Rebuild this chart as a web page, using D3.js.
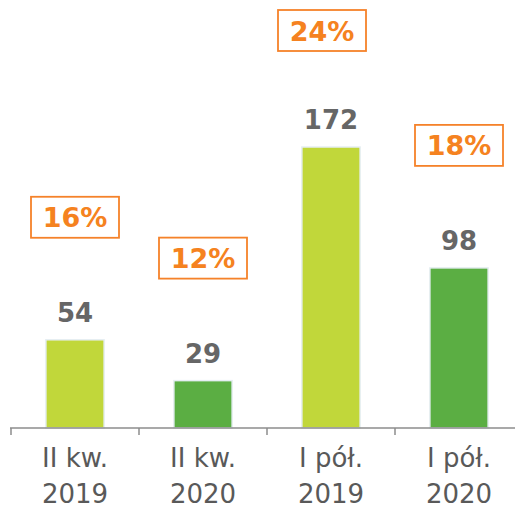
<!DOCTYPE html>
<html>
<head>
<meta charset="utf-8">
<script src="https://cdn.jsdelivr.net/npm/d3@7"></script>
<style>
  html, body { margin: 0; padding: 0; background: #fff; }
  svg { display: block; font-family: "DejaVu Sans", Verdana, sans-serif; }
</style>
</head>
<body>
<div id="chart"></div>
<script>
// data
const categories = [['II kw.', '2019'], ['II kw.', '2020'], ['I pół.', '2019'], ['I pół.', '2020']];
const values     = [54, 29, 172, 98];
const shares     = ['16%', '12%', '24%', '18%'];
const barColors  = ['#c1d73a', '#5bae43', '#c1d73a', '#5bae43'];

const width = 515, height = 508;
const baseY = 428;

const svg = d3.select('#chart').append('svg')
  .attr('width', width)
  .attr('height', height);

const x = d3.scaleBand()
  .domain(d3.range(values.length))
  .range([11, 523])
  .paddingInner(0.545)
  .paddingOuter(0.2725);

const y = d3.scaleLinear()
  .domain([0, 172])
  .range([baseY, 147]);

// Bars
svg.selectAll('.bar')
  .data(values)
  .join('rect')
  .attr('class', 'bar')
  .attr('x', (d, i) => x(i))
  .attr('y', d => y(d))
  .attr('width', x.bandwidth())
  .attr('height', d => baseY - y(d))
  .attr('fill', (d, i) => barColors[i])
  .attr('stroke', '#e6eef3')
  .attr('stroke-width', 1.5);

// Axis line + ticks
const step = x.step();
svg.append('line')
  .attr('x1', 10).attr('x2', width)
  .attr('y1', baseY).attr('y2', baseY)
  .attr('stroke', '#8c8c8c')
  .attr('stroke-width', 1.5);

svg.selectAll('.tick')
  .data(d3.range(values.length))
  .join('line')
  .attr('class', 'tick')
  .attr('x1', i => x(i) - x.paddingOuter() * step)
  .attr('x2', i => x(i) - x.paddingOuter() * step)
  .attr('y1', baseY).attr('y2', baseY + 7)
  .attr('stroke', '#8c8c8c')
  .attr('stroke-width', 1.5);

// Value labels
svg.selectAll('.val')
  .data(values)
  .join('text')
  .attr('class', 'val')
  .attr('x', (d, i) => x(i) + x.bandwidth() / 2)
  .attr('y', d => y(d) - 18)
  .attr('text-anchor', 'middle')
  .attr('font-size', 26)
  .attr('font-weight', 'bold')
  .attr('fill', '#666666')
  .text(d => d);

// Share boxes (the one that hits the top edge is nudged left, like in the source)
const boxW = 88, boxH = 41;
const boxes = svg.selectAll('.share')
  .data(values)
  .join('g')
  .attr('class', 'share')
  .attr('transform', (d, i) => {
    const cx = x(i) + x.bandwidth() / 2;
    const wanted = y(d) - 143;
    const top = Math.max(10, wanted);
    const dx = wanted < 10 ? -9 : 0;
    return `translate(${cx - boxW / 2 + dx},${top})`;
  });

boxes.append('rect')
  .attr('width', boxW)
  .attr('height', boxH)
  .attr('fill', '#fff')
  .attr('stroke', '#f5822a')
  .attr('stroke-width', 1.8);

boxes.append('text')
  .attr('x', boxW / 2)
  .attr('y', boxH / 2 + 10)
  .attr('text-anchor', 'middle')
  .attr('font-size', 27)
  .attr('font-weight', 'bold')
  .attr('fill', '#f58220')
  .text((d, i) => shares[i]);

// Category labels
const cat = svg.selectAll('.cat')
  .data(categories)
  .join('text')
  .attr('class', 'cat')
  .attr('x', (d, i) => x(i) + x.bandwidth() / 2)
  .attr('y', 467)
  .attr('text-anchor', 'middle')
  .attr('font-size', 26)
  .attr('fill', '#595959');

cat.selectAll('tspan')
  .data(d => d)
  .join('tspan')
  .attr('x', function () { return this.parentNode.getAttribute('x'); })
  .attr('dy', (d, j) => j === 0 ? 0 : 36)
  .text(d => d);
</script>
</body>
</html>
